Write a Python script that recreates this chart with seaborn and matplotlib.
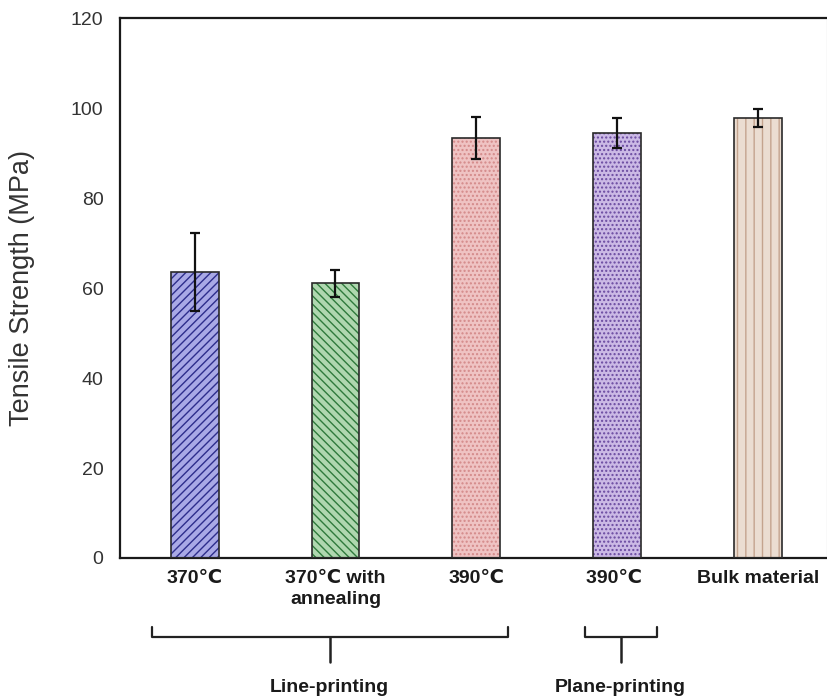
import matplotlib
matplotlib.use("Agg")
import matplotlib.pyplot as plt
import matplotlib.transforms as mtransforms
from matplotlib.patches import Rectangle
import seaborn as sns
import pandas as pd
import numpy as np

# Tensile strength of printed specimens vs. bulk material
categories = ["370\u2103", "370\u2103 with\nannealing", "390\u2103", "390\u2103 ", "Bulk material"]
strength = [63.6, 61.1, 93.4, 94.5, 97.8]
strength_err = [8.6, 3.0, 4.7, 3.3, 2.0]

fill_colors = ["#9f9ff0", "#a8dea8", "#f6bcbc", "#c9b2ec", "#efdccd"]
hatch_colors = ["#2e2e8c", "#2f7a3c", "#d48a8a", "#6a4aa0", "#c4a48e"]
hatches = ["////", "\\\\\\\\", "....", "....", "||"]

# printing-method groups: label, bracket left/right in category units
groups = [("Line-printing", -0.305, 2.224), ("Plane-printing", 2.771, 3.282)]

sns.set_style("white")
plt.rcParams["font.family"] = ["Liberation Sans", "DejaVu Sans"]
plt.rcParams["hatch.linewidth"] = 1.0

df = pd.DataFrame({"category": categories, "strength": strength})

fig = plt.figure(figsize=(8.28, 6.98), dpi=100)
ax = fig.add_axes([0.145, 0.2006, 0.8535, 0.7734])

sns.barplot(data=df, x="category", y="strength", order=categories,
            palette=fill_colors, hue="category", legend=False,
            width=0.34, errorbar=None, ax=ax)

# hatch each bar, then outline it in dark grey
for patch, hc, h in zip(ax.patches, hatch_colors, hatches):
    patch.set_hatch(h)
    patch.set_edgecolor(hc)
    patch.set_linewidth(0)
    ax.add_patch(Rectangle(patch.get_xy(), patch.get_width(), patch.get_height(),
                           fill=False, edgecolor="#2a2a2a", linewidth=1.2, zorder=3))

xpos = np.arange(len(categories))
ax.errorbar(xpos, strength, yerr=strength_err, fmt="none", ecolor="#111111",
            elinewidth=1.6, capsize=3.5, capthick=1.6, zorder=4)

ax.set_ylim(0, 120)
ax.set_xlim(-0.53, 4.49)
ax.set_yticks(range(0, 121, 20))
ax.tick_params(axis="y", direction="out", length=5, width=1, colors="#555555",
               labelsize=14, pad=7)
ax.tick_params(axis="x", length=0, pad=9)
ax.set_xticks(xpos)
ax.set_xticklabels(categories, fontsize=14, fontweight="bold", color="#1a1a1a",
                   linespacing=1.25, va="top")
for lbl in ax.get_yticklabels():
    lbl.set_color("#333333")
ax.set_xlabel("")
ax.set_ylabel("Tensile Strength (MPa)", fontsize=19.5, color="#333333")
ax.yaxis.set_label_coords(-0.121, 0.5)

for side in ["left", "bottom", "top"]:
    ax.spines[side].set_color("#1a1a1a")
    ax.spines[side].set_linewidth(1.6)
ax.spines["right"].set_color("#999999")
ax.spines["right"].set_linewidth(0.8)

# group brackets below the category labels
trans = mtransforms.blended_transform_factory(ax.transData, ax.transAxes)
y_hook, y_bar, y_stem, y_text = -0.128, -0.146, -0.193, -0.239
for name, left, right in groups:
    mid = (left + right) / 2
    ax.plot([left, left, right, right], [y_hook, y_bar, y_bar, y_hook],
            color="#222222", lw=1.6, transform=trans, clip_on=False,
            solid_joinstyle="round")
    ax.plot([mid, mid], [y_bar, y_stem], color="#222222", lw=1.8,
            transform=trans, clip_on=False)
    ax.text(mid, y_text, name, transform=trans, ha="center", va="center",
            fontsize=14, fontweight="bold", color="#1a1a1a")

fig.savefig("out.png", dpi=100)
